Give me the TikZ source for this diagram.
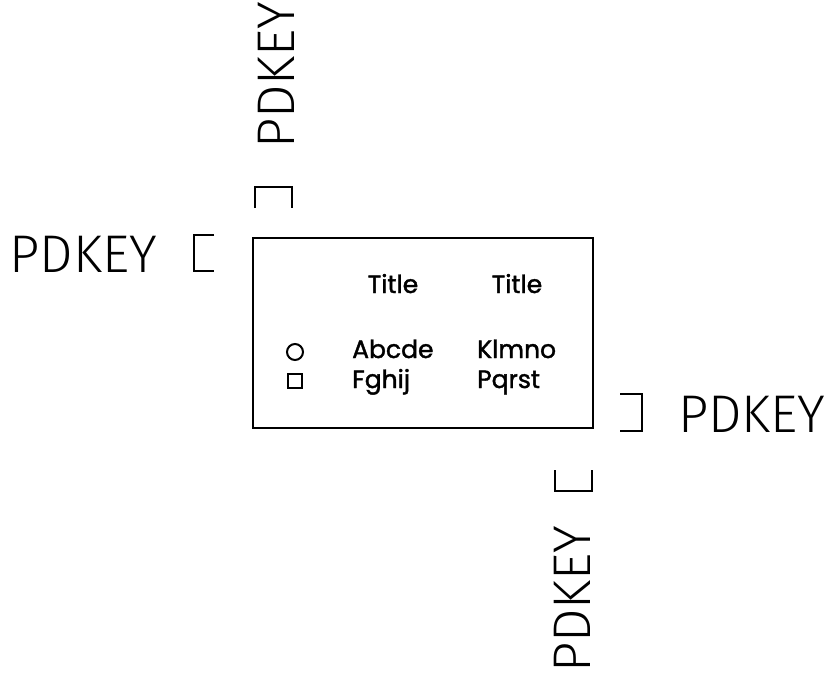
\documentclass[tikz,border=0pt]{standalone}
\usepackage{fontspec}
\usepackage{tikz}
\usetikzlibrary{positioning}
\newfontfamily\keyfont{Fira Sans Light}
\newfontfamily\legendfont{Poppins}[FakeBold=1.6]

\begin{document}
\begin{tikzpicture}[x=1pt, y=-1pt,
  keytext/.style={inner sep=0pt, font=\keyfont\fontsize{53}{53}\selectfont},
  legendtext/.style={inner sep=0pt, anchor=base west, font=\legendfont\fontsize{25}{25}\selectfont},
  bracket/.style={line width=2pt, line join=miter}]
\useasboundingbox (0,0) rectangle (825,675);

% legend frame with its entries
\node[draw, line width=2pt, minimum width=340pt, minimum height=190pt, inner sep=0pt] (legend) at (423,333) {};
\node[legendtext, anchor=base] (title1) at (393,293) {Title};
\node[legendtext, anchor=base] (title2) at (517,293) {Title};
\node[draw, circle, line width=2pt, minimum size=16pt, inner sep=0pt] (circ) at (295,352) {};
\node[legendtext] (abcde) at (352,358) {Abcde};
\node[legendtext] (klmno) at (477,358) {Klmno};
\node[draw, rectangle, line width=2pt, minimum size=14pt, inner sep=0pt] (sqr) at (295,381) {};
\node[legendtext] (fghij) at (352,388) {Fghij};
\node[legendtext] (pqrst) at (477,388) {Pqrst};

% key labels on the four sides
\node[keytext, anchor=base east] (keyleft) at (157,272) {PDKEY};
\node[keytext, anchor=base west, rotate=90] (keytop) at (294,149) {PDKEY};
\node[keytext, anchor=base west] (keyright) at (678,432) {PDKEY};
\node[keytext, anchor=base west, rotate=90] (keybottom) at (590,673) {PDKEY};

% brackets
\draw[bracket] (214,235) -- (194,235) -- (194,271) -- (214,271);
\draw[bracket] (255,208) -- (255,187) -- (292,187) -- (292,208);
\draw[bracket] (620,394) -- (642,394) -- (642,431) -- (620,431);
\draw[bracket] (555,470) -- (555,491) -- (592,491) -- (592,470);
\end{tikzpicture}
\end{document}
